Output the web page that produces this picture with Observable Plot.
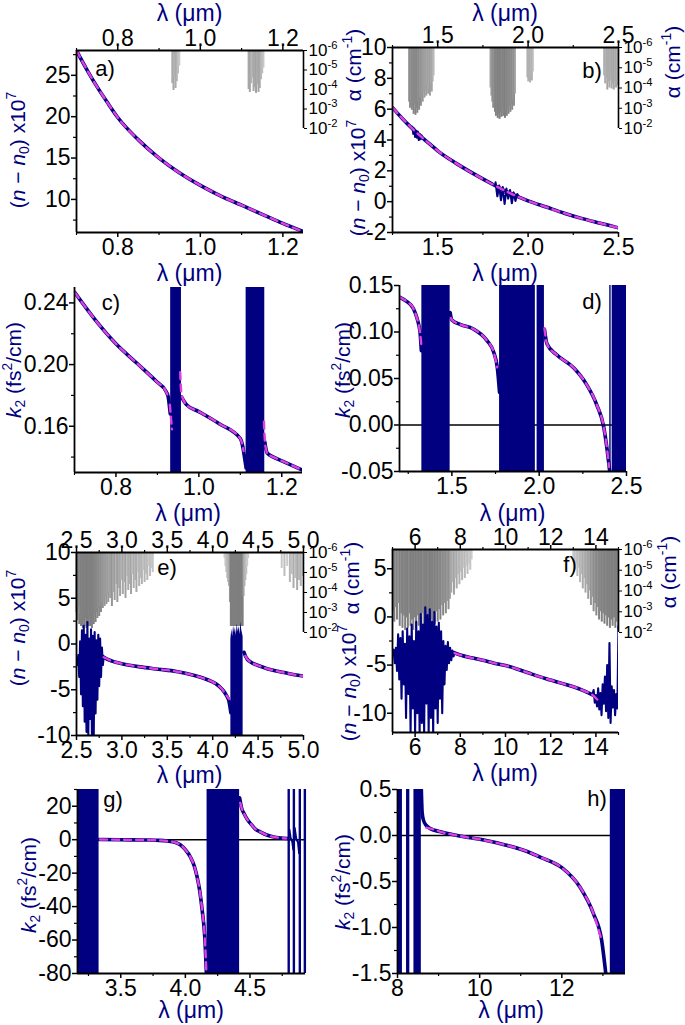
<!DOCTYPE html>
<html><head><meta charset="utf-8">
<script src="https://cdn.jsdelivr.net/npm/d3@7"></script>
<script src="https://cdn.jsdelivr.net/npm/@observablehq/plot@0.6"></script>
<style>
body{margin:0;background:#fff;}
#fig{position:relative;width:685px;height:1025px;overflow:hidden;background:#fff;}
#fig svg{position:absolute;left:0;top:0;}
</style></head><body><div id="fig"></div>
<script>
// ===================== DATA =====================
// Panel a: (n-n0)x10^7 vs wavelength (um)
const aLam = [0.70,0.725,0.75,0.775,0.80,0.85,0.90,0.95,1.00,1.05,1.10,1.15,1.20,1.25];
const aVal = [28.0,25.7,23.6,21.7,19.9,17.2,15.0,13.2,11.7,10.4,9.3,8.2,7.1,6.1];
const aGrayLam = [0.932,0.935,0.937,0.940,0.943,0.946,0.949,1.117,1.120,1.123,1.126,1.129,1.132,1.135,1.138,1.141,1.144,1.147,1.150,1.153];
const aGrayExp = [-4.3,-3.95,-4.6,-4.05,-4.4,-4.8,-5.2,-4.0,-3.85,-4.3,-4.6,-3.9,-4.1,-3.8,-4.25,-3.85,-4.05,-4.5,-4.8,-5.1];

// Panel b
const bLam = [1.25,1.30,1.35,1.40,1.45,1.50,1.60,1.70,1.80,1.90,2.00,2.10,2.20,2.30,2.40,2.50];
const bVal = [6.1,5.45,4.85,4.3,3.8,3.3,2.5,1.8,1.15,0.55,0.05,-0.35,-0.75,-1.1,-1.4,-1.7];
const bNoiseLam = [1.360,1.365,1.370,1.375,1.380,1.385,1.390,1.395,1.400,1.405,1.410,1.415,
  1.82,1.83,1.84,1.85,1.86,1.87,1.88,1.89,1.90,1.91,1.92,1.93,1.94,1.95];
const bNoiseVal = [4.85,4.4,4.75,4.2,4.6,4.15,4.55,4.0,4.4,4.05,4.3,4.1,
  1.25,0.35,1.05,0.1,0.95,-0.15,0.85,0.2,0.75,-0.1,0.6,0.05,0.5,0.3];
const bNoiseSeg = [1,1,1,1,1,1,1,1,1,1,1,1, 2,2,2,2,2,2,2,2,2,2,2,2,2,2];
const bGrayLam = [1.342,1.347,1.352,1.357,1.362,1.367,1.372,1.377,1.382,1.387,1.392,1.397,1.402,1.407,1.412,1.417,1.422,1.427,1.432,1.437,1.442,1.447,1.452,1.457,1.462,1.467,1.472,1.477,
  1.792,1.797,1.802,1.807,1.812,1.817,1.822,1.827,1.832,1.837,1.842,1.847,1.852,1.857,1.862,1.867,1.872,1.877,1.882,1.887,1.892,1.897,1.902,1.907,1.912,1.917,1.922,1.927,
  1.996,2.001,2.006,2.011,2.016,2.021,2.026,
  2.420,2.426,2.432,2.438,2.444,2.450,2.456,2.462,2.468,2.474,2.480,2.486,2.492,2.498];
const bGrayExp = [-3.3,-3.0,-3.4,-2.9,-3.1,-2.7,-3.2,-2.65,-3.0,-2.75,-3.3,-2.9,-3.5,-3.1,-3.6,-3.3,-3.8,-3.5,-3.9,-3.6,-4.1,-3.7,-4.0,-3.6,-4.2,-3.8,-4.3,-4.6,
  -4.0,-3.6,-3.3,-3.0,-3.2,-2.8,-2.6,-2.9,-2.5,-2.7,-2.45,-2.8,-2.55,-2.9,-2.6,-2.75,-2.5,-2.85,-2.6,-3.0,-2.7,-3.1,-2.8,-3.2,-2.9,-3.4,-3.1,-3.7,
  -4.5,-4.3,-4.4,-4.25,-4.6,-4.35,-4.8,
  -4.6,-4.2,-4.5,-3.9,-4.3,-4.0,-4.4,-3.95,-4.2,-3.9,-4.3,-4.0,-4.4,-4.1];

// Panel c: k2 (fs^2/cm)
const cLam = [0.70,0.75,0.80,0.85,0.90,0.92,0.926,0.931, 0.958,0.97,1.00,1.05,1.10,1.105,1.11,1.114, 1.159,1.162,1.165,1.18,1.20,1.25];
const cVal = [0.247,0.229,0.2135,0.201,0.1885,0.183,0.179,0.168, 0.179,0.174,0.1695,0.1615,0.152,0.148,0.140,0.133, 0.150,0.145,0.1425,0.140,0.1376,0.1315];
const cSeg = [1,1,1,1,1,1,1,1, 2,2,2,2,2,2,2,2, 3,3,3,3,3,3];
const cMagLam = [0.70,0.75,0.80,0.85,0.90,0.92,0.926, 0.930,0.935, 0.955,0.958,0.97,1.00,1.05,1.10,1.105,1.108, 1.157,1.160,1.165,1.18,1.20,1.25];
const cMagVal = [0.247,0.229,0.2135,0.201,0.1885,0.183,0.179, 0.174,0.158, 0.195,0.181,0.174,0.1695,0.1615,0.152,0.148,0.144, 0.163,0.148,0.1425,0.140,0.1376,0.1315];
const cMagSeg = [1,1,1,1,1,1,1, 2,2, 3,3,3,3,3,3,3,3, 4,4,4,4,4,4];
const cBandFrom = [0.932,1.114];
const cBandTo   = [0.958,1.159];

// Panel d
const dLam = [1.20,1.24,1.28,1.30,1.31,1.318,1.325, 1.49,1.50,1.55,1.62,1.70,1.74,1.76,1.773, 2.03,2.045,2.10,2.20,2.27,2.33,2.37,2.39,2.404];
const dVal = [0.1375,0.133,0.125,0.115,0.108,0.099,0.08, 0.121,0.113,0.108,0.1035,0.091,0.078,0.062,0.035, 0.103,0.087,0.0755,0.061,0.044,0.0215,-0.0025,-0.028,-0.05];
const dSeg = [1,1,1,1,1,1,1, 2,2,2,2,2,2,2,2, 3,3,3,3,3,3,3,3,3];
const dMagLam = [1.20,1.24,1.28,1.30,1.31,1.318,1.322,1.326, 1.495,1.50,1.55,1.62,1.70,1.74,1.76, 2.03,2.045,2.10,2.20,2.27,2.33,2.37,2.39,2.40];
const dMagVal = [0.1375,0.133,0.125,0.115,0.108,0.099,0.092,0.083, 0.115,0.113,0.108,0.1035,0.091,0.078,0.062, 0.104,0.087,0.0755,0.061,0.044,0.0215,-0.0025,-0.028,-0.045];
const dMagSeg = [1,1,1,1,1,1,1,1, 2,2,2,2,2,2,2, 3,3,3,3,3,3,3,3,3];
const dBandFrom = [1.328,1.773,1.988,2.404,2.418];
const dBandTo   = [1.490,1.978,2.030,2.412,2.500];

// Panel e
const eLam = [2.78,2.80,2.90,3.00,3.20,3.40,3.60,3.80,3.90,4.00,4.05,4.10,4.15,4.18,4.20, 4.345,4.36,4.38,4.40,4.45,4.50,4.60,4.70,4.80,4.90,5.00];
const eVal = [-1.3,-1.45,-1.9,-2.15,-2.5,-2.75,-3.0,-3.45,-3.75,-4.15,-4.45,-4.9,-5.6,-6.3,-7.5, -0.9,-1.3,-1.65,-1.85,-2.15,-2.35,-2.7,-2.95,-3.15,-3.35,-3.5];
const eSeg = [1,1,1,1,1,1,1,1,1,1,1,1,1,1,1, 2,2,2,2,2,2,2,2,2,2,2];
const eMagLam = [2.80,2.90,3.00,3.20,3.40,3.60,3.80,3.90,4.00,4.05,4.10,4.15,4.18, 4.36,4.38,4.40,4.45,4.50,4.60,4.70,4.80,4.90,5.00];
const eMagVal = [-1.45,-1.9,-2.15,-2.5,-2.75,-3.0,-3.45,-3.75,-4.15,-4.45,-4.9,-5.6,-6.0, -1.3,-1.65,-1.85,-2.15,-2.35,-2.7,-2.95,-3.15,-3.35,-3.5];
const eMagSeg = [1,1,1,1,1,1,1,1,1,1,1,1,1, 2,2,2,2,2,2,2,2,2,2];
const eNoiseLam = [2.50,2.51,2.52,2.53,2.54,2.55,2.56,2.57,2.58,2.59,2.60,2.61,2.62,2.63,2.64,2.65,2.66,2.67,2.68,2.69,2.70,2.71,2.72,2.73,2.74,2.75,2.76,2.77,2.78,2.79,2.80];
const eNoiseVal = [-1.6,-2.3,-1.2,-3.6,0.3,-5.5,1.5,-6.8,2.0,-8.5,1.0,-9.6,2.4,-10,0.6,-8.2,1.6,-10,0.9,-10,1.3,-7.6,0.4,-6.1,1.0,-4.6,0.6,-3.6,-0.4,-2.3,-1.4];
const eBandLam = [4.200,4.210,4.220,4.230,4.240,4.250,4.260,4.270,4.280,4.290,4.300,4.310,4.320,4.335];
const eBandTop = [0.5,1.6,0.8,2.0,1.2,1.8,0.9,2.2,1.3,1.9,1.0,2.4,1.5,0.8];
const eGrayLam = [2.50,2.51,2.52,2.53,2.54,2.55,2.56,2.57,2.58,2.59,2.60,2.61,2.62,2.63,2.64,2.65,2.66,2.67,2.68,2.69,2.70,2.71,2.72,2.73,2.74,2.75,2.76,2.77,2.78,2.79,2.80,2.81,2.82,2.83,2.84,2.85,2.86,2.87,
  2.89,2.905,2.92,2.935,2.95,2.965,2.98,2.995,3.01,3.025,3.04,3.055,3.07,3.085,3.10,3.115,3.13,3.145,3.16,3.175,3.19,3.205,3.22,3.235,3.25,3.265,3.28,3.295,3.31,3.325,3.34,
  4.13,4.14,4.15,4.16,4.17,4.18,4.19,4.20,4.21,4.22,4.23,4.24,4.25,4.26,4.27,4.28,4.29,4.30,4.31,4.32,4.33,4.34,4.35,4.36,4.37,4.38,4.39,
  4.76,4.79,4.82,4.85,4.87,4.89,4.91,4.93,4.95,4.97,4.99];
const eGrayExp = [-3.0,-2.6,-3.3,-2.4,-2.9,-2.3,-2.7,-2.2,-2.6,-2.3,-2.7,-2.2,-2.5,-2.3,-2.7,-2.3,-2.6,-2.2,-2.7,-2.4,-2.9,-2.5,-3.0,-2.7,-3.2,-2.8,-3.3,-3.0,-3.5,-3.2,-3.6,-3.3,-3.8,-3.4,-3.9,-3.5,-4.0,-3.7,
  -3.3,-4.0,-3.6,-4.4,-3.5,-4.2,-3.8,-4.6,-3.9,-4.5,-3.7,-4.8,-4.1,-4.4,-3.9,-4.9,-4.2,-4.6,-4.0,-5.0,-4.3,-4.7,-4.4,-5.1,-4.5,-4.9,-4.6,-5.3,-4.8,-5.2,-5.0,
  -5.7,-5.3,-5.0,-4.7,-4.5,-4.3,-3.5,-2.3,-2.3,-2.3,-2.3,-2.3,-2.3,-2.3,-2.3,-2.3,-2.3,-2.3,-2.3,-2.3,-2.3,-3.8,-4.3,-4.6,-4.9,-5.3,-5.7,
  -5.2,-4.8,-5.3,-4.5,-4.9,-4.2,-4.7,-4.1,-4.6,-4.3,-4.8];

// Panel f
const fLam = [7.7,8.0,8.5,9.0,9.5,10.0,10.5,11.0,11.5,12.0,12.5,13.0,13.5,13.85];
const fVal = [-3.7,-3.95,-4.25,-4.5,-4.8,-5.05,-5.4,-5.8,-6.2,-6.55,-6.9,-7.25,-7.7,-8.1];
const fMagLam = [7.75,8.0,8.5,9.0,9.5,10.0,10.5,11.0,11.5,12.0,12.5,13.0,13.5,13.85,14.1];
const fMagVal = [-3.75,-3.95,-4.25,-4.5,-4.8,-5.05,-5.4,-5.8,-6.2,-6.55,-6.9,-7.25,-7.7,-8.1,-8.7];
const fNoiseLam = [5.00,5.05,5.10,5.15,5.20,5.25,5.30,5.35,5.40,5.45,5.50,5.55,5.60,5.65,5.70,5.75,5.80,5.85,5.90,5.95,6.00,6.05,6.10,6.15,6.20,6.25,6.30,6.35,6.40,6.45,6.50,6.55,6.60,6.65,6.70,6.75,6.80,6.85,6.90,6.95,7.00,7.05,7.10,7.15,7.20,7.25,7.30,7.35,7.40,7.45,7.50,7.55,7.60,7.65,7.70,7.75,
  13.85,13.90,13.95,14.00,14.05,14.10,14.15,14.20,14.25,14.30,14.35,14.40,14.45,14.50,14.55,14.60,14.65,14.70,14.75,14.80,14.85,14.90,14.95,15.0];
const fNoiseVal = [-4.0,-3.4,-4.8,-3.2,-5.6,-1.8,-6.5,-2.2,-8.5,-1.5,-7.0,-2.8,-10.5,-1.2,-8.0,-2.0,-12,-0.8,-9.5,-2.5,-12,-0.5,-10,-1.5,-12,0.3,-11,-0.8,-12,1.0,-9.0,0.2,-12,0.8,-10.5,-0.5,-12,0.5,-9.5,-1.0,-11,-0.6,-8.5,-1.5,-10,-2.5,-7.0,-3.0,-5.5,-2.6,-4.8,-3.2,-4.5,-3.5,-4.1,-3.7,
  -8.0,-7.6,-8.9,-8.1,-9.3,-7.4,-9.6,-7.9,-10.2,-7.0,-9.0,-6.2,-9.8,-5.0,-10.5,-2.7,-11.0,-7.2,-9.4,-7.6,-10.2,-8.0,-9.5,-1.0];
const fNoiseSeg = [1,1,1,1,1,1,1,1,1,1,1,1,1,1,1,1,1,1,1,1,1,1,1,1,1,1,1,1,1,1,1,1,1,1,1,1,1,1,1,1,1,1,1,1,1,1,1,1,1,1,1,1,1,1,1,1,
  2,2,2,2,2,2,2,2,2,2,2,2,2,2,2,2,2,2,2,2,2,2,2,2];
const fGrayLam = [5.02,5.08,5.14,5.20,5.26,5.32,5.38,5.44,5.50,5.56,5.62,5.68,5.74,5.80,5.86,5.92,5.98,6.04,6.10,6.16,6.22,6.28,6.34,6.40,6.46,6.52,6.58,6.64,6.70,6.76,6.82,6.88,6.94,7.00,7.06,7.12,7.18,7.24,7.30,7.36,7.42,7.48,7.54,7.60,7.66,7.72,7.78,7.84,7.90,7.96,8.02,8.08,8.14,8.20,8.26,8.32,8.38,8.44,8.50,
  13.00,13.06,13.12,13.18,13.24,13.30,13.36,13.42,13.48,13.54,13.60,13.66,13.72,13.78,13.84,13.90,13.96,14.02,14.08,14.14,14.20,14.26,14.32,14.38,14.44,14.50,14.56,14.62,14.68,14.74,14.80,14.86,14.92,14.98];
const fGrayExp = [-3.0,-2.5,-3.2,-2.6,-3.4,-2.3,-2.9,-2.2,-2.8,-2.1,-2.7,-2.2,-2.9,-2.3,-2.6,-2.1,-2.7,-2.2,-2.8,-2.3,-2.6,-2.1,-2.9,-2.2,-2.7,-2.3,-2.8,-2.2,-2.6,-2.3,-2.9,-2.4,-3.0,-2.5,-3.1,-2.6,-3.3,-2.8,-3.4,-2.9,-3.5,-3.1,-3.6,-3.9,-4.4,-3.8,-4.6,-4.1,-4.8,-4.3,-4.9,-4.5,-5.1,-4.6,-5.2,-4.8,-5.3,-5.0,-5.5,
  -5.4,-5.0,-5.3,-4.7,-5.1,-4.4,-4.8,-4.1,-4.6,-3.9,-4.3,-3.6,-4.0,-3.3,-3.7,-3.0,-3.4,-2.8,-3.2,-2.6,-3.0,-2.5,-2.9,-2.4,-2.8,-2.3,-2.7,-2.2,-2.6,-2.3,-2.7,-2.2,-2.5,-2.1];

// Panel g
const gLam = [3.332,3.5,3.7,3.8,3.86,3.92,3.96,4.0,4.04,4.07,4.09,4.11,4.13,4.15,4.163, 4.42,4.435,4.455,4.48,4.505,4.54,4.583,4.63,4.685,4.74,4.79];
const gVal = [0.1,-0.05,-0.2,-0.4,-0.8,-1.6,-3,-6,-10.5,-16,-22,-30,-42,-58,-80, 25,19,15.5,12,9.6,6.5,4.5,2.8,1.6,1.0,0.7];
const gSeg = [1,1,1,1,1,1,1,1,1,1,1,1,1,1,1, 2,2,2,2,2,2,2,2,2,2,2];
const gMagLam = [3.34,3.5,3.7,3.8,3.86,3.92,3.96,4.0,4.04,4.07,4.09,4.11,4.13,4.15,4.163, 4.425,4.435,4.455,4.48,4.505,4.54,4.583,4.63,4.685,4.74,4.78];
const gMagVal = [0.1,-0.05,-0.2,-0.4,-0.8,-1.6,-3,-6,-10.5,-16,-22,-30,-42,-58,-80, 22,19,15.5,12,9.6,6.5,4.5,2.8,1.6,1.0,0.7];
const gMagSeg = gSeg;
const gBandFrom = [3.165,4.168];
const gBandTo   = [3.332,4.420];
const gSpikes = [4.80,4.84,4.886,4.925];
const gHookLam = [4.805,4.815,4.828,4.836, 4.846,4.858,4.872,4.881];
const gHookVal = [6,0.8,-1.2,-6, 7,0.5,-1.5,-8];
const gHookSeg = [1,1,1,1, 2,2,2,2];

// Panel h
const hLam = [8.58,8.6,8.63,8.7,8.8,9.05,9.45,10.1,10.6,11.07,11.5,12.0,12.44,12.77,12.97,13.07];
const hVal = [0.5,0.25,0.17,0.11,0.075,0.04,0.0,-0.05,-0.1,-0.16,-0.24,-0.35,-0.56,-0.85,-1.14,-1.5];
const hMagLam = [8.7,8.8,9.05,9.45,10.1,10.6,11.07,11.5,12.0,12.44,12.77,12.97];
const hMagVal = [0.085,0.075,0.04,0.0,-0.05,-0.1,-0.16,-0.24,-0.35,-0.56,-0.85,-1.14];
const hBandFrom = [8.0,8.22,8.40,13.18];
const hBandTo   = [8.12,8.30,8.58,13.55];

// Tick values
const aXT = [0.8,1.0,1.2], aYT = [10,15,20,25];
const bXT = [1.5,2.0,2.5], bYT = [-2,0,2,4,6,8,10];
const cXT = [0.8,1.0,1.2], cYT = [0.16,0.20,0.24];
const dXT = [1.5,2.0,2.5], dYT = [-0.05,0,0.05,0.10,0.15];
const eXT = [2.5,3.0,3.5,4.0,4.5,5.0], eYT = [-10,-5,0,5,10];
const fXT = [6,8,10,12,14], fYT = [-10,-5,0,5];
const gXT = [3.5,4.0,4.5], gYT = [-80,-60,-40,-20,0,20];
const hXT = [8,10,12], hYT = [-1.5,-1.0,-0.5,0.0,0.5];
const alphaTicks = [1e-6,1e-5,1e-4,1e-3,1e-2];

// Texts
const XLABEL = "λ (μm)";
const NLABEL = "(*n* − *n*_{0}) x10^{7}";
const KLABEL = "*k*_{2} (fs^{2}/cm)";
const ALABEL = "α (cm^{-1})";

// ===================== LAYOUT / STYLE =====================
const NAVY = "#000080", MAG = "#e040e0";
const FONT = "'Liberation Sans', Arial, Helvetica, sans-serif";
const TICKFS = 23;
const FR = {
  a:{x0:76,x1:303,y0:50,y1:232,xd:[0.7,1.25],yd:[6,28],ay1:128},
  b:{x0:392,x1:618,y0:47,y1:232,xd:[1.25,2.5],yd:[-2,10],ay1:128},
  c:{x0:74,x1:302,y0:287,y1:472,xd:[0.7,1.25],yd:[0.13,0.25]},
  d:{x0:399,x1:626,y0:285,y1:471,xd:[1.2,2.5],yd:[-0.05,0.15]},
  e:{x0:76,x1:303,y0:552,y1:735,xd:[2.5,5],yd:[-10,10],ay1:632},
  f:{x0:392,x1:618,y0:549,y1:732,xd:[5,15],yd:[-12,7],ay1:632},
  g:{x0:77,x1:305,y0:789,y1:973,xd:[3.165,4.93],yd:[-80,30]},
  h:{x0:397,x1:625,y0:789,y1:973,xd:[8,13.55],yd:[-1.5,0.5]}
};
const SVGNS = "http://www.w3.org/2000/svg";
const fig = document.getElementById("fig");

const rows = (xs, ys, zs) => xs.map((x, i) => ({x, y: ys[i], z: zs ? zs[i] : 0}));
const bands = (a, b) => a.map((v, i) => [v, b[i]]);
const fmt = n => v => v.toFixed(n);
function minorTicks(t, d) {
  const step = t[1] - t[0], out = [];
  for (let v = t[0] - step / 2; v <= d[1] + 1e-9; v += step) if (v >= d[0] - 1e-9) out.push(+v.toFixed(6));
  return out;
}

function setRich(el, str, fs) {
  while (el.firstChild) el.removeChild(el.firstChild);
  const parts = str.split(/(\^\{[^}]*\}|_\{[^}]*\}|\*[^*]+\*)/g).filter(s => s !== "");
  let shift = 0;
  for (const p of parts) {
    let txt = p, target = 0, size = null, italic = false;
    if (p.startsWith("^{")) { txt = p.slice(2, -1); target = -0.42 * fs; size = 0.66 * fs; }
    else if (p.startsWith("_{")) { txt = p.slice(2, -1); target = 0.22 * fs; size = 0.66 * fs; }
    else if (p.length > 2 && p.startsWith("*") && p.endsWith("*")) { txt = p.slice(1, -1); italic = true; }
    const ts = document.createElementNS(SVGNS, "tspan");
    if (target !== shift) { ts.setAttribute("dy", target - shift); shift = target; }
    if (size) ts.setAttribute("font-size", size);
    if (italic) ts.setAttribute("font-style", "italic");
    ts.textContent = txt;
    el.appendChild(ts);
  }
}
function richify(svg, fs) {
  svg.querySelectorAll("text").forEach(t => {
    const s = t.textContent;
    if (/\^\{|_\{/.test(s)) setRich(t, s, fs);
  });
}
function addText(svg, x, y, str, o = {}) {
  const fs = o.fs || 20;
  const t = document.createElementNS(SVGNS, "text");
  t.setAttribute("transform", `translate(${x},${y}) rotate(${o.rotate || 0})`);
  t.setAttribute("text-anchor", o.anchor || "middle");
  t.setAttribute("y", 0.36 * fs);
  t.setAttribute("font-size", fs);
  t.setAttribute("font-family", FONT);
  t.setAttribute("fill", o.color || NAVY);
  setRich(t, str, fs);
  svg.appendChild(t);
}

function plotBase(f, extra) {
  return Object.assign({
    width: 685, height: 1025,
    marginLeft: f.x0, marginRight: 685 - f.x1, marginTop: f.y0, marginBottom: 1025 - f.y1,
    style: {background: "none", overflow: "visible", fontFamily: FONT, fontSize: TICKFS + "px", color: "#000"}
  }, extra);
}

function mainPlot(f, c) {
  const [ymin, ymax] = f.yd, [xmin] = f.xd;
  const m = [];
  if (c.zero) m.push(Plot.ruleY([0], {stroke: "#000", strokeWidth: 1.6}));
  if (c.bands) m.push(Plot.rect(c.bands, {x1: d => d[0], x2: d => d[1], y1: () => ymin, y2: () => ymax, fill: NAVY}));
  if (c.area) m.push(Plot.areaY(c.area, {x: "x", y1: () => ymin, y2: "y", fill: NAVY}));
  if (c.spikes) m.push(Plot.ruleX(c.spikes, {stroke: NAVY, strokeWidth: 2.4}));
  if (c.noise) m.push(Plot.line(c.noise, {x: "x", y: "y", z: "z", stroke: NAVY, strokeWidth: 2.1, clip: true}));
  m.push(Plot.line(c.navy, {x: "x", y: "y", z: "z", stroke: NAVY, strokeWidth: 3.6, curve: "monotone-x", clip: true}));
  m.push(Plot.line(c.mag, {x: "x", y: "y", z: "z", stroke: MAG, strokeWidth: 2.4, strokeDasharray: "7,5", curve: "monotone-x", clip: true}));
  const ax = {tickSize: 5, label: null, strokeWidth: 1.5, fontSize: TICKFS};
  const mn = {tickSize: 3, label: null, strokeWidth: 1.2, tickFormat: () => ""};
  m.push(Plot.axisX({...ax, anchor: "bottom", ticks: c.xt, tickFormat: fmt(c.xf), tickPadding: 1}));
  m.push(Plot.axisX({...mn, anchor: "bottom", ticks: minorTicks(c.xt, f.xd)}));
  if (c.top) {
    m.push(Plot.axisX({...ax, anchor: "top", ticks: c.xt, tickFormat: fmt(c.xf), tickPadding: 0}));
    m.push(Plot.axisX({...mn, anchor: "top", ticks: minorTicks(c.xt, f.xd)}));
    m.push(Plot.ruleY([ymax], {stroke: "#000", strokeWidth: 1.8}));
  }
  m.push(Plot.axisY({...ax, anchor: "left", ticks: c.yt, tickFormat: fmt(c.yf), tickPadding: 1}));
  m.push(Plot.axisY({...mn, anchor: "left", ticks: minorTicks(c.yt, f.yd)}));
  m.push(Plot.ruleY([ymin], {stroke: "#000", strokeWidth: 1.8}));
  m.push(Plot.ruleX([xmin], {stroke: "#000", strokeWidth: 1.8}));
  return Plot.plot(plotBase(f, {x: {domain: f.xd}, y: {domain: f.yd}, marks: m}));
}

function shade(e) {
  const t = Math.max(0, Math.min(1, (e + 5.3) / 2.8));
  return d3.interpolateRgb("#cbcbcb", "#7f7f7f")(t);
}
function alphaPlot(f, lam, ex) {
  const r = lam.map((x, i) => ({x, e: ex[i]}));
  const svg = Plot.plot(Object.assign(plotBase(f, {}), {
    marginBottom: 1025 - f.ay1,
    x: {domain: f.xd, axis: null},
    y: {type: "log", domain: [1e-6, 1e-2], reverse: true},
    color: {type: "identity"},
    marks: [
      Plot.ruleX(r, {x: "x", y1: () => 1e-6, y2: d => Math.pow(10, d.e), stroke: d => shade(d.e), strokeWidth: 2}),
      Plot.ruleX([f.xd[1]], {y1: () => 1e-6, y2: () => 1e-2, stroke: "#000", strokeWidth: 1.6}),
      Plot.axisY({anchor: "right", ticks: alphaTicks, tickFormat: v => "10^{" + Math.round(Math.log10(v)) + "}", tickSize: 3, tickPadding: 2, fontSize: 17, label: null})
    ]
  }));
  richify(svg, 17);
  return svg;
}

// ===================== BUILD =====================
const cfg = {
  a: {top: true, xt: aXT, xf: 1, yt: aYT, yf: 0, navy: rows(aLam, aVal), mag: rows(aLam, aVal)},
  b: {top: true, xt: bXT, xf: 1, yt: bYT, yf: 0, navy: rows(bLam, bVal), mag: rows(bLam, bVal), noise: rows(bNoiseLam, bNoiseVal, bNoiseSeg)},
  c: {xt: cXT, xf: 1, yt: cYT, yf: 2, navy: rows(cLam, cVal, cSeg), mag: rows(cMagLam, cMagVal, cMagSeg), bands: bands(cBandFrom, cBandTo)},
  d: {zero: true, xt: dXT, xf: 1, yt: dYT, yf: 2, navy: rows(dLam, dVal, dSeg), mag: rows(dMagLam, dMagVal, dMagSeg), bands: bands(dBandFrom, dBandTo)},
  e: {top: true, xt: eXT, xf: 1, yt: eYT, yf: 0, navy: rows(eLam, eVal, eSeg), mag: rows(eMagLam, eMagVal, eMagSeg), noise: rows(eNoiseLam, eNoiseVal), area: rows(eBandLam, eBandTop)},
  f: {top: true, xt: fXT, xf: 0, yt: fYT, yf: 0, navy: rows(fLam, fVal), mag: rows(fMagLam, fMagVal), noise: rows(fNoiseLam, fNoiseVal, fNoiseSeg)},
  g: {zero: true, xt: gXT, xf: 1, yt: gYT, yf: 0, navy: rows(gLam, gVal, gSeg), mag: rows(gMagLam, gMagVal, gMagSeg), bands: bands(gBandFrom, gBandTo), spikes: gSpikes, noise: rows(gHookLam, gHookVal, gHookSeg)},
  h: {zero: true, xt: hXT, xf: 0, yt: hYT, yf: 1, navy: rows(hLam, hVal), mag: rows(hMagLam, hMagVal), bands: bands(hBandFrom, hBandTo)}
};
const gray = {a: [aGrayLam, aGrayExp], b: [bGrayLam, bGrayExp], e: [eGrayLam, eGrayExp], f: [fGrayLam, fGrayExp]};

const svgs = {};
for (const k of ["a","b","c","d","e","f","g","h"]) {
  if (gray[k]) fig.appendChild(alphaPlot(FR[k], gray[k][0], gray[k][1]));
  const s = mainPlot(FR[k], cfg[k]);
  fig.appendChild(s);
  svgs[k] = s;
}

// Axis titles, panel letters
const T = svgs.h;
const cx = k => (FR[k].x0 + FR[k].x1) / 2;
const XFS = 23;
addText(T, cx("a"), 13, XLABEL, {fs: XFS});
addText(T, cx("b"), 13, XLABEL, {fs: XFS});
addText(T, cx("a"), 273, XLABEL, {fs: XFS});
addText(T, cx("b"), 273, XLABEL, {fs: XFS});
addText(T, cx("c"), 513, XLABEL, {fs: XFS});
addText(T, cx("d"), 513, XLABEL, {fs: XFS});
addText(T, cx("e"), 775, XLABEL, {fs: XFS});
addText(T, cx("f"), 773, XLABEL, {fs: XFS});
addText(T, cx("g"), 1010, XLABEL, {fs: XFS});
addText(T, cx("h"), 1010, XLABEL, {fs: XFS});

addText(T, 17, 150, NLABEL, {fs: 21, rotate: -90});
addText(T, 357, 178, NLABEL, {fs: 21, rotate: -90});
addText(T, 17, 628, NLABEL, {fs: 21, rotate: -90});
addText(T, 348, 683, NLABEL, {fs: 21, rotate: -90});
addText(T, 13, 370, KLABEL, {fs: 21, rotate: -90});
addText(T, 342, 370, KLABEL, {fs: 21, rotate: -90});
addText(T, 28, 885, KLABEL, {fs: 21, rotate: -90});
addText(T, 342, 882, KLABEL, {fs: 21, rotate: -90});

addText(T, 353, 65, ALABEL, {fs: 21, rotate: -90});
addText(T, 672, 62, ALABEL, {fs: 21, rotate: -90});
addText(T, 351, 578, ALABEL, {fs: 21, rotate: -90});
addText(T, 668, 572, ALABEL, {fs: 21, rotate: -90});

const letters = [["a)",105,68],["b)",592,70],["c)",111,302],["d)",592,301],["e)",167,567],["f)",570,564],["g)",113,799],["h)",597,798]];
for (const [s, x, y] of letters) addText(T, x, y, s, {fs: 22, color: "#000"});
</script></body></html>
